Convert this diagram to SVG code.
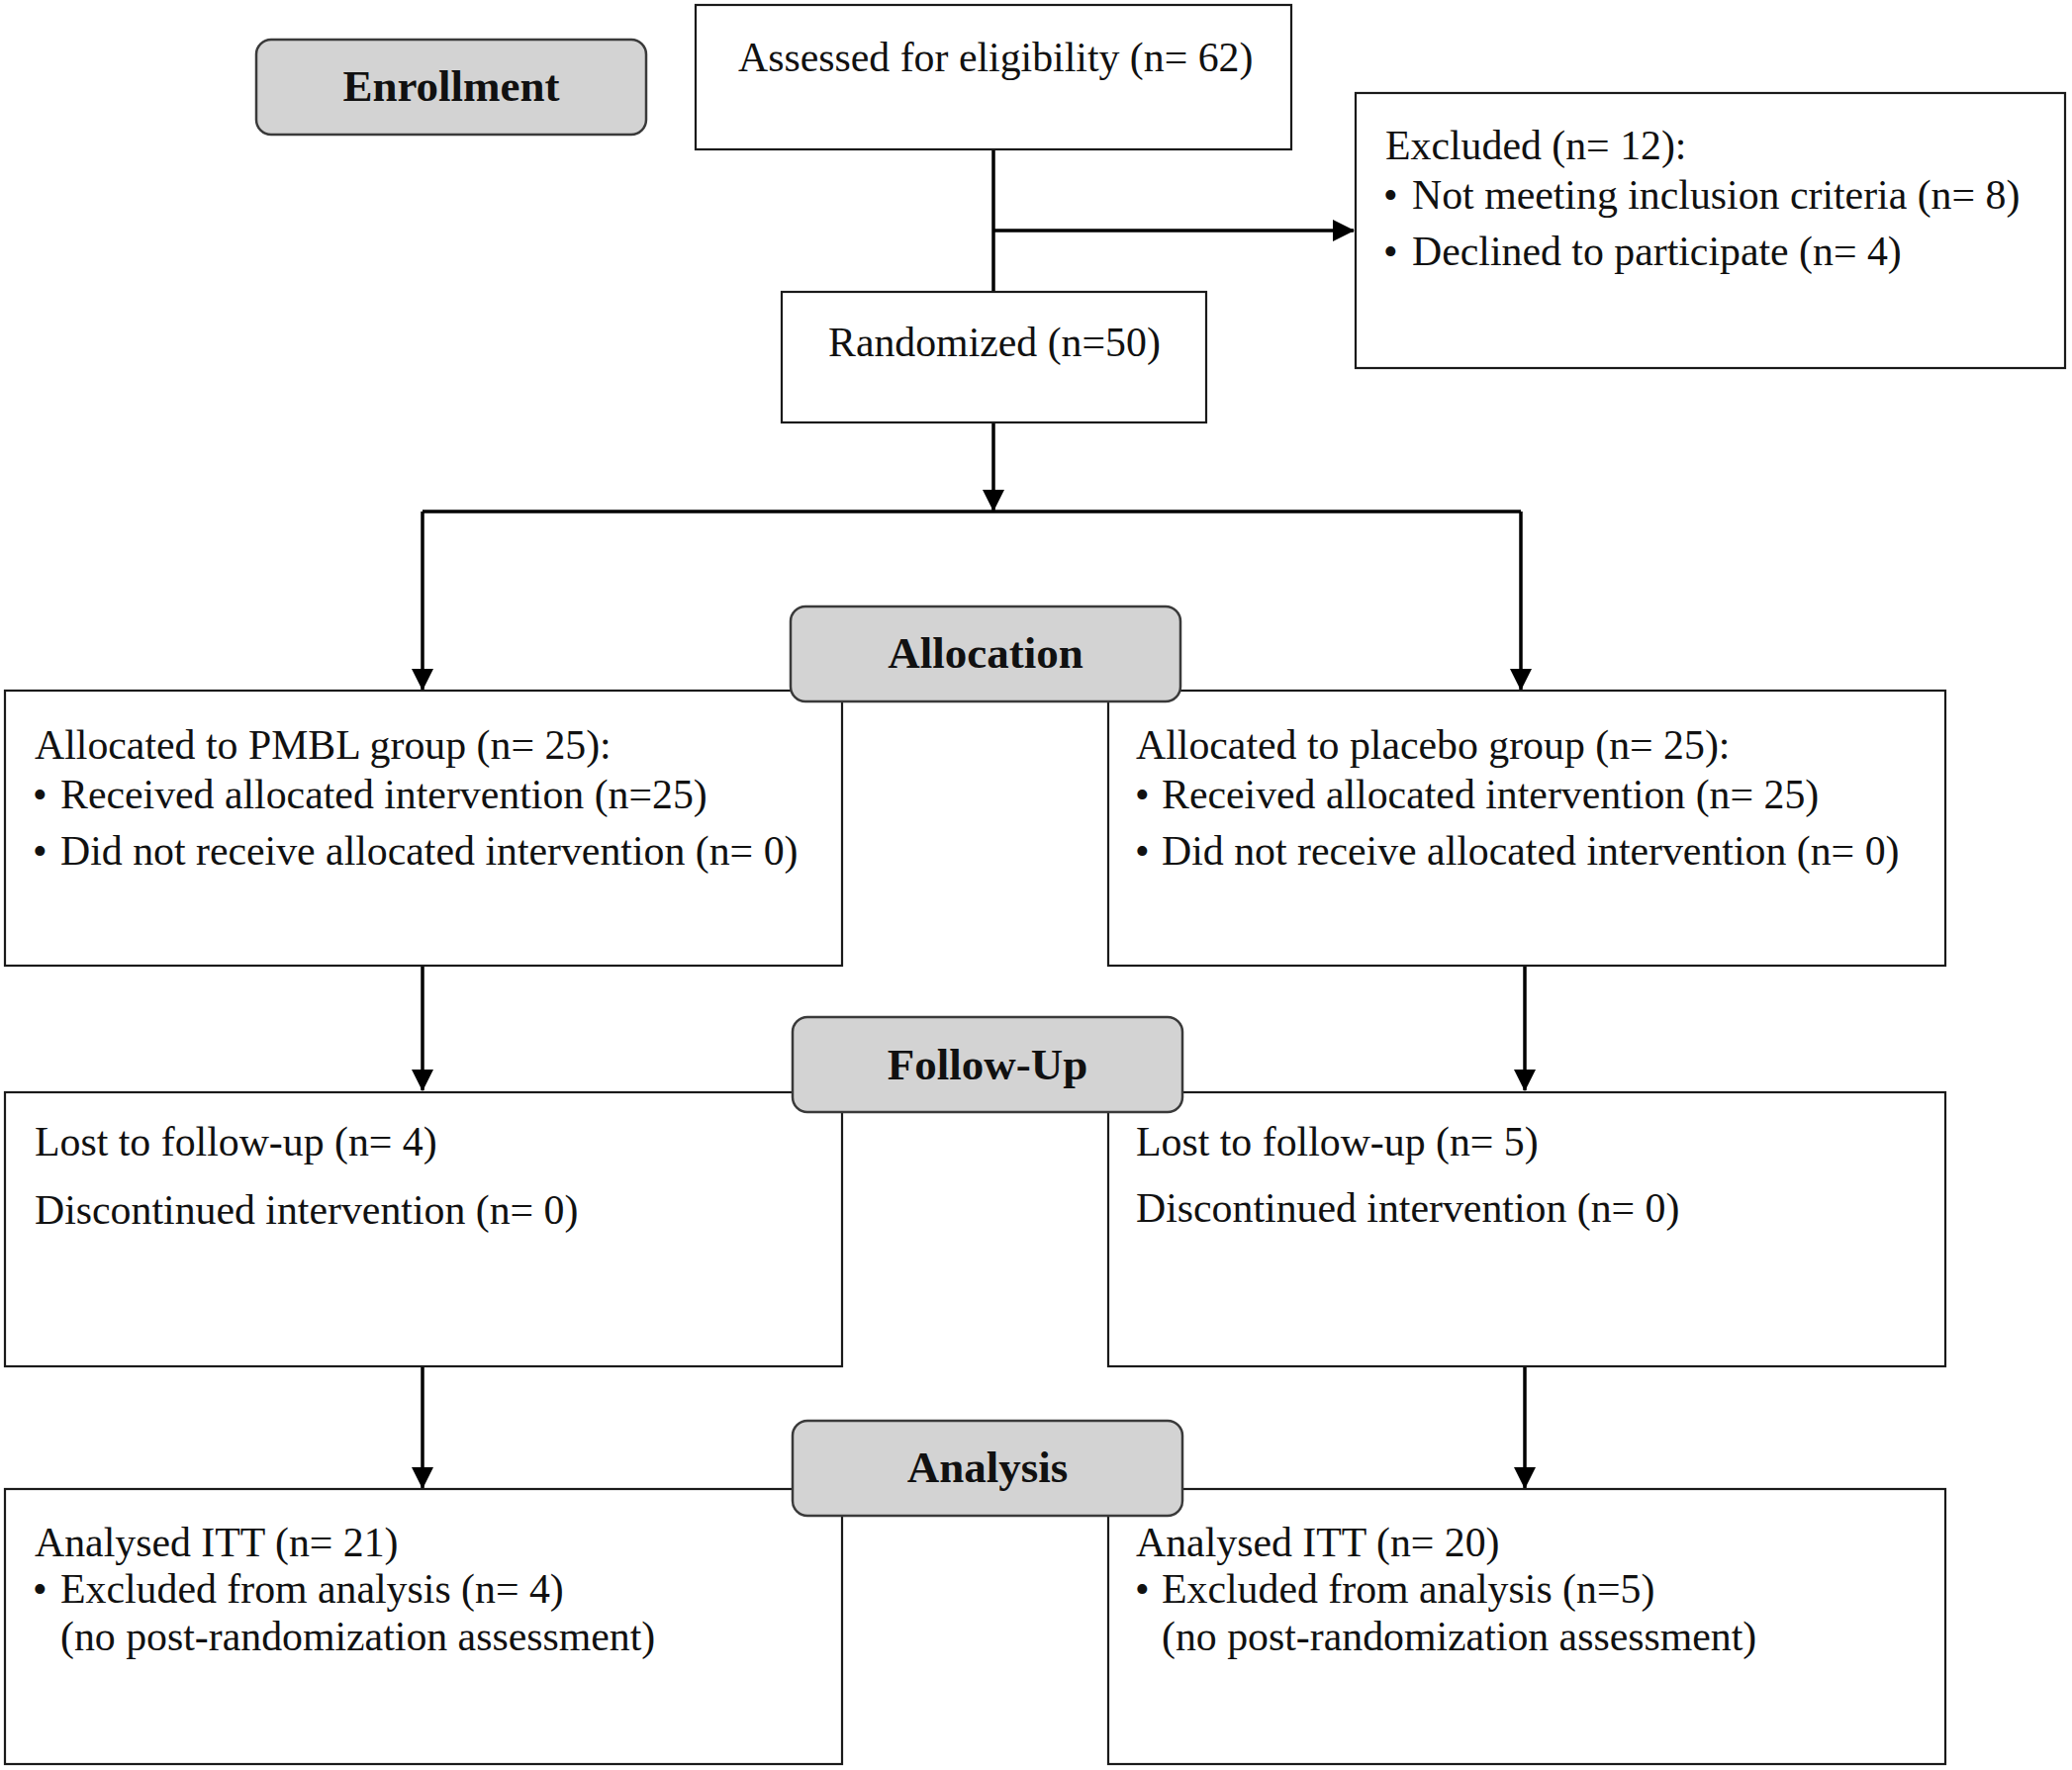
<svg xmlns="http://www.w3.org/2000/svg" width="2094" height="1789" viewBox="0 0 2094 1789">
<style>
.box{fill:#ffffff;stroke:#1a1a1a;stroke-width:2.2}
.pill{fill:#d3d3d3;stroke:#3a3a3a;stroke-width:2.5}
.t{font-family:"Liberation Serif","Times New Roman",serif;font-size:41.8px;fill:#111}
.b{font-family:"Liberation Serif","Times New Roman",serif;font-size:45px;font-weight:bold;fill:#111;text-anchor:middle}
.c{fill:none;stroke:#000;stroke-width:3.5}
</style>
<defs>
<marker id="ah" markerUnits="userSpaceOnUse" markerWidth="24" markerHeight="24" refX="21" refY="11" orient="auto" viewBox="0 0 24 24">
<path d="M0,0 L22,11 L0,22 z" fill="#000"/>
</marker>
</defs>
<rect width="2094" height="1789" fill="#ffffff"/>
<g id="connectors">
<path class="c" d="M1004,151 V295"/>
<path class="c" d="M1004,233 H1368" marker-end="url(#ah)"/>
<path class="c" d="M1004,427 V516" marker-end="url(#ah)"/>
<path class="c" d="M427,517 H1537"/>
<path class="c" d="M427,517 V697" marker-end="url(#ah)"/>
<path class="c" d="M1537,517 V697" marker-end="url(#ah)"/>
<path class="c" d="M427,976 V1102" marker-end="url(#ah)"/>
<path class="c" d="M1541,976 V1102" marker-end="url(#ah)"/>
<path class="c" d="M427,1381 V1504" marker-end="url(#ah)"/>
<path class="c" d="M1541,1381 V1504" marker-end="url(#ah)"/>
</g>
<g id="enrollment">
<rect class="pill" x="259" y="40" width="394" height="96" rx="15"/>
<text class="b" x="456" y="102">Enrollment</text>
</g>
<g id="assessed">
<rect class="box" x="703" y="5" width="602" height="146"/>
<text class="t" x="746" y="72">Assessed for eligibility (n= 62)</text>
</g>
<g id="excluded">
<rect class="box" x="1370" y="94" width="717" height="278"/>
<text class="t" x="1400" y="161">Excluded (n= 12):</text>
<text class="t" y="211"><tspan x="1398">•</tspan><tspan x="1427">Not meeting inclusion criteria (n= 8)</tspan></text>
<text class="t" y="268"><tspan x="1398">•</tspan><tspan x="1427">Declined to participate (n= 4)</tspan></text>
</g>
<g id="randomized">
<rect class="box" x="790" y="295" width="429" height="132"/>
<text class="t" x="837" y="360">Randomized (n=50)</text>
</g>
<g id="alloc-left">
<rect class="box" x="5" y="698" width="846" height="278"/>
<text class="t" x="35" y="767">Allocated to PMBL group (n= 25):</text>
<text class="t" y="817"><tspan x="33">•</tspan><tspan x="61">Received allocated intervention (n=25)</tspan></text>
<text class="t" y="874"><tspan x="33">•</tspan><tspan x="61">Did not receive allocated intervention (n= 0)</tspan></text>
</g>
<g id="alloc-right">
<rect class="box" x="1120" y="698" width="846" height="278"/>
<text class="t" x="1148" y="767">Allocated to placebo group (n= 25):</text>
<text class="t" y="817"><tspan x="1147">•</tspan><tspan x="1174">Received allocated intervention (n= 25)</tspan></text>
<text class="t" y="874"><tspan x="1147">•</tspan><tspan x="1174">Did not receive allocated intervention (n= 0)</tspan></text>
</g>
<g id="allocation">
<rect class="pill" x="799" y="613" width="394" height="96" rx="15"/>
<text class="b" x="996" y="675">Allocation</text>
</g>
<g id="fu-left">
<rect class="box" x="5" y="1104" width="846" height="277"/>
<text class="t" x="35" y="1168">Lost to follow-up (n= 4)</text>
<text class="t" x="35" y="1237">Discontinued intervention (n= 0)</text>
</g>
<g id="fu-right">
<rect class="box" x="1120" y="1104" width="846" height="277"/>
<text class="t" x="1148" y="1168">Lost to follow-up (n= 5)</text>
<text class="t" x="1148" y="1235">Discontinued intervention (n= 0)</text>
</g>
<g id="followup">
<rect class="pill" x="801" y="1028" width="394" height="96" rx="15"/>
<text class="b" x="998" y="1091">Follow-Up</text>
</g>
<g id="an-left">
<rect class="box" x="5" y="1505" width="846" height="278"/>
<text class="t" x="35" y="1573">Analysed ITT (n= 21)</text>
<text class="t" y="1620"><tspan x="33">•</tspan><tspan x="61">Excluded from analysis (n= 4)</tspan></text>
<text class="t" x="61" y="1668">(no post-randomization assessment)</text>
</g>
<g id="an-right">
<rect class="box" x="1120" y="1505" width="846" height="278"/>
<text class="t" x="1148" y="1573">Analysed ITT (n= 20)</text>
<text class="t" y="1620"><tspan x="1147">•</tspan><tspan x="1174">Excluded from analysis (n=5)</tspan></text>
<text class="t" x="1174" y="1668">(no post-randomization assessment)</text>
</g>
<g id="analysis">
<rect class="pill" x="801" y="1436" width="394" height="96" rx="15"/>
<text class="b" x="998" y="1498">Analysis</text>
</g>
</svg>
